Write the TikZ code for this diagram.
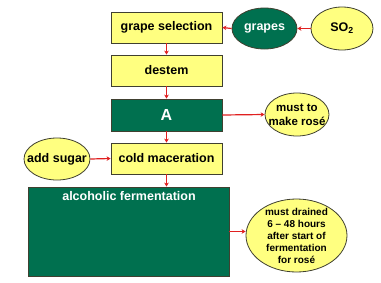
\documentclass[tikz,border=0pt]{standalone}
\usepackage{fontspec}
\setmainfont{Liberation Sans}
\usetikzlibrary{shapes.geometric,arrows.meta}
\definecolor{wyellow}{HTML}{FFFF80}
\definecolor{wgreen}{HTML}{00704F}
\definecolor{wborder}{HTML}{404030}
\definecolor{wred}{HTML}{E02020}
\begin{document}
\begin{tikzpicture}[x=1pt,y=-1pt,
  ybox/.style={draw=wborder,line width=0.8pt,fill=wyellow,minimum width=111pt,minimum height=31pt,inner sep=0pt,font=\fontsize{12.5}{14}\selectfont\bfseries},
  gbox/.style={draw=wborder,line width=0.8pt,fill=wgreen,inner sep=0pt,text=white},
  yell/.style={ellipse,draw=wborder,line width=0.8pt,fill=wyellow,inner sep=-60pt,align=center,font=\fontsize{12.5}{14}\selectfont\bfseries},
  gell/.style={ellipse,draw=wborder,line width=0.8pt,fill=wgreen,inner sep=-60pt,text=white,font=\fontsize{12.5}{14}\selectfont\bfseries},
  flow/.style={draw=wred,line width=1.2pt,-{Stealth[length=4pt,width=4.5pt]}}]
\useasboundingbox[fill=white] (0,0) rectangle (381,282);
\node[ybox] (gs) at (166.5,27.5) {grape selection};
\node[gell,minimum width=65pt,minimum height=41pt] (gr) at (264.5,28.5) {grapes};
\node[yell,minimum width=62pt,minimum height=43pt] (so) at (342,28.5) {SO\textsubscript{2}};
\node[ybox] (de) at (166.5,70.5) {destem};
\node[gbox,minimum width=111pt,minimum height=32pt,font=\fontsize{16}{18}\selectfont\bfseries] (A) at (166.5,115) {A};
\node[yell,minimum width=64pt,minimum height=43pt,font=\fontsize{11.5}{14}\selectfont\bfseries] (mr) at (297,114.5) {must to\\make rosé};
\node[ybox] (cm) at (166.5,158.5) {cold maceration};
\node[yell,minimum width=66pt,minimum height=42pt] (as) at (57,159) {add sugar};
\node[gbox,minimum width=201pt,minimum height=89pt] (af) at (128.5,231.5) {};
\node[text=white,inner sep=0pt,font=\fontsize{12.5}{14}\selectfont\bfseries] (aft) at (129,196) {alcoholic fermentation};
\node[yell,minimum width=101pt,minimum height=73pt,font=\fontsize{10}{12}\selectfont\bfseries] (md) at (296.5,235.5) {must drained\\6 -- 48 hours\\after start of\\fermentation\\for rosé};
\draw[flow] (so.west) -- (gr.east);
\draw[flow] (gr.west) -- (gs.east);
\draw[flow] (gs.south) -- (de.north);
\draw[flow] (de.south) -- (A.north);
\draw[flow] (A.east) -- (mr.west);
\draw[flow] (A.south) -- (cm.north);
\draw[flow] (as.east) -- (cm.west);
\draw[flow] (cm.south) -- (cm.south |- af.north);
\draw[flow] (af.east) -- (af.east -| md.west);
\end{tikzpicture}
\end{document}
